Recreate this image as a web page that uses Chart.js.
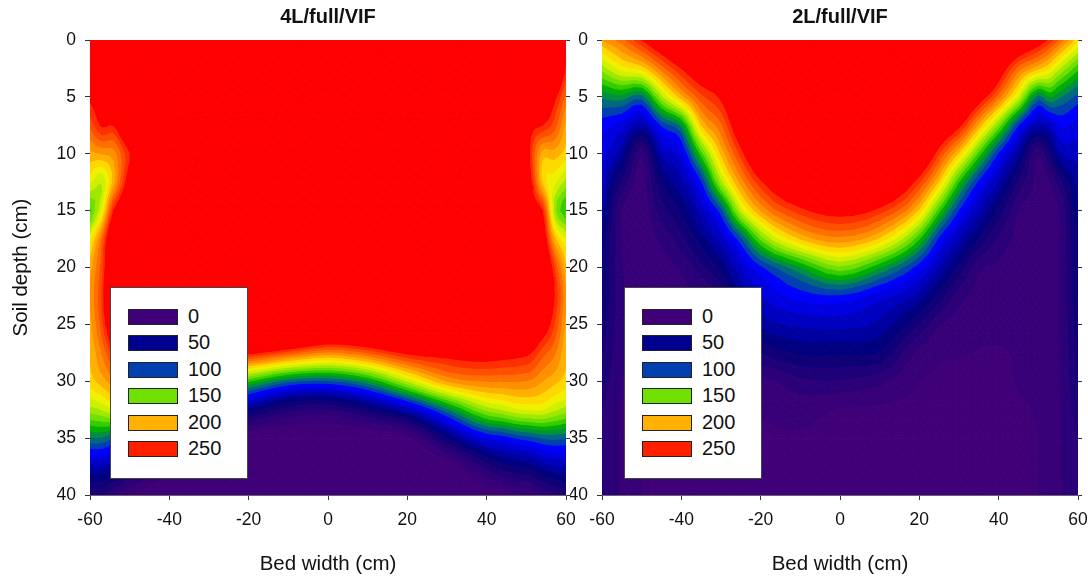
<!DOCTYPE html>
<html>
<head>
<meta charset="utf-8">
<title>Soil contour</title>
<script src="https://cdn.jsdelivr.net/npm/chart.js@4/dist/chart.umd.min.js"></script>
<style>
    body { margin: 0; background: #fff; font-family: "Liberation Sans", Arial, sans-serif; }
    #page { position: relative; width: 1088px; height: 576px; overflow: hidden; }
    canvas { position: absolute; top: 0; }
    #left-chart { left: 0; }
    #right-chart { left: 570px; }
    .legend { position: absolute; top: 287px; width: 136px; height: 190px; background: #fff; border: 1px solid #444; }
    .legend div { position: absolute; left: 17px; width: 48px; height: 14px; border: 1px solid #222; }
    .legend span { position: absolute; left: 77px; font-size: 20px; line-height: 20px; color: #111; }
</style>
</head>
<body>
<div id="page">
    <canvas id="left-chart" width="578" height="576"></canvas>
    <canvas id="right-chart" width="518" height="576"></canvas>
    <div class="legend" id="left-legend" style="left:110px"></div>
    <div class="legend" id="right-legend" style="left:624px"></div>
</div>
<script>
// Rows of every value column, soil depth in cm
const depths = [0, 2.5, 5, 7.5, 10, 12.5, 15, 17.5, 20, 22.5, 25, 27.5, 30, 32.5, 35, 37.5, 40];

// 4L/full/VIF, one column of values per bed width
const leftWidths = [-60, -57, -54, -51, -48, -44, -40, -30, -20, -10, 0, 10, 20, 30, 40, 44, 48, 51, 54, 57, 60];
const leftColumns = [
    [300, 280, 255, 232, 207, 182, 145, 183, 205, 210, 205, 200, 195, 165, 118, 70, 30],
    [300, 300, 265, 252, 210, 170, 180, 225, 235, 240, 235, 220, 205, 170, 118, 70, 30],
    [300, 300, 290, 250, 215, 205, 250, 285, 290, 300, 280, 245, 215, 180, 110, 60, 20],
    [300, 300, 300, 280, 240, 250, 280, 300, 300, 300, 300, 255, 220, 185, 110, 50, 10],
    [300, 300, 300, 300, 265, 290, 300, 300, 300, 300, 300, 260, 220, 170, 95, 40, 5],
    [300, 300, 300, 300, 300, 300, 300, 300, 300, 300, 310, 262, 205, 140, 75, 25, 0],
    [300, 300, 300, 300, 300, 300, 300, 300, 300, 300, 320, 260, 190, 120, 60, 18, 0],
    [300, 300, 300, 300, 300, 300, 300, 300, 300, 300, 340, 258, 165, 85, 25, 0, 0],
    [300, 300, 300, 300, 300, 300, 300, 300, 300, 300, 360, 254, 140, 56, 0, 0, 0],
    [300, 300, 300, 300, 300, 300, 300, 300, 300, 300, 340, 233, 112, 32, 0, 0, 0],
    [300, 300, 300, 300, 300, 300, 300, 300, 300, 300, 310, 216, 107, 27, 0, 0, 0],
    [300, 300, 300, 300, 300, 300, 300, 300, 300, 300, 312, 230, 126, 44, 0, 0, 0],
    [300, 300, 300, 300, 300, 300, 300, 300, 300, 300, 328, 253, 170, 70, 5, 0, 0],
    [300, 300, 300, 300, 300, 300, 300, 300, 300, 300, 310, 258, 210, 117, 48, 0, 0],
    [300, 300, 300, 300, 300, 300, 300, 300, 300, 300, 303, 262, 220, 163, 88, 33, 0],
    [300, 300, 300, 300, 300, 300, 300, 300, 300, 300, 299, 259, 220, 170, 93, 44, 0],
    [300, 300, 300, 300, 300, 300, 300, 300, 300, 300, 292, 256, 220, 178, 101, 50, 8],
    [300, 300, 300, 260, 245, 255, 270, 300, 300, 300, 285, 251, 218, 180, 105, 53, 10],
    [300, 300, 280, 250, 205, 198, 250, 270, 290, 280, 265, 234, 210, 180, 110, 62, 20],
    [300, 290, 255, 235, 205, 183, 165, 205, 240, 250, 240, 222, 203, 172, 112, 68, 25],
    [255, 245, 225, 205, 195, 165, 140, 180, 200, 210, 205, 200, 195, 165, 110, 70, 35]
];

// 2L/full/VIF
const rightWidths = [-60, -55, -50, -45, -40, -35, -30, -25, -20, -10, 0, 10, 20, 25, 30, 35, 40, 45, 50, 53, 55, 60];
const rightColumns = [
    [210, 164, 122, 94, 85, 75, 65, 55, 50, 50, 45, 40, 35, 30, 30, 30, 30],
    [225, 185, 125, 85, 63, 37, 18, 18, 20, 22, 22, 22, 20, 18, 18, 18, 18],
    [250, 194, 114, 67, 20, 15, 13, 13, 14, 15, 15, 15, 14, 12, 11, 10, 10],
    [275, 224, 166, 101, 71, 49, 35, 22, 17, 15, 14, 12, 11, 10, 9, 8, 7],
    [295, 250, 205, 122, 85, 68, 50, 36, 21, 18, 17, 14, 12, 10, 8, 7, 6],
    [300, 270, 236, 199, 144, 97, 74, 55, 36, 19, 17, 15, 13, 10, 8, 7, 6],
    [300, 275, 253, 227, 201, 165, 105, 75, 52, 30, 18, 15, 13, 10, 9, 8, 6],
    [320, 310, 290, 272, 243, 213, 172, 106, 78, 62, 44, 32, 20, 12, 9, 8, 6],
    [350, 350, 340, 320, 285, 247, 210, 152, 97, 79, 62, 40, 17, 11, 9, 8, 6],
    [350, 350, 350, 350, 320, 285, 245, 200, 128, 94, 72, 51, 27, 14, 9, 8, 7],
    [350, 350, 350, 350, 345, 300, 258, 216, 157, 98, 73, 51, 29, 9, 8, 7, 7],
    [350, 350, 350, 350, 330, 290, 245, 197, 130, 84, 67, 49, 22, 8, 7, 6, 6],
    [350, 350, 350, 330, 285, 241, 197, 140, 93, 66, 39, 16, 10, 8, 6, 5, 5],
    [350, 340, 310, 282, 240, 197, 143, 96, 70, 45, 20, 11, 9.5, 7, 6, 5, 5],
    [350, 320, 295, 255, 197, 139, 98, 71, 46, 24, 15, 10.5, 9, 7, 6, 5, 5],
    [340, 315, 264, 206, 145, 96, 71, 48, 22, 16, 13, 9.5, 8, 7, 6, 6, 6],
    [310, 268, 224, 156, 97, 69, 46, 27, 18, 15, 13, 9, 8, 7, 7, 7, 7],
    [285, 225, 175, 99, 63, 37, 19, 17, 16, 15, 13, 11, 10.5, 9, 8, 7, 7],
    [262, 202, 115, 69, 20, 17, 15, 15, 15, 15, 14, 13, 12, 11, 10, 10, 10],
    [245, 188, 130, 76, 42, 19, 17, 16, 16, 16, 15, 15, 15, 15, 15, 15, 15],
    [230, 173, 122, 89, 65, 32, 18, 18, 18, 18, 18, 18, 18, 18, 18, 18, 18],
    [192, 142, 106, 85, 75, 65, 58, 52, 50, 50, 45, 42, 40, 35, 30, 28, 25]
];

// Contour levels and the colour of the band that starts at each one
const levels = [0, 10, 20, 30, 40, 50, 60, 70, 80, 90, 100, 110, 120, 130, 140, 150, 160, 170, 180, 190, 200, 210, 220, 230, 240, 250];
const levelColors = ['#400078', '#380078', '#2c0078', '#1e0078', '#100078', '#000080', '#0000a0', '#0000c0', '#0000e0', '#0000ff',
    '#0040b0', '#006880', '#009040', '#00b000', '#38cc00', '#70e000', '#a0e800', '#d0f000', '#f0f000', '#ffd800',
    '#ffb000', '#ff9000', '#ff7000', '#ff5000', '#ff3000', '#ff0000'];

const legendLabels = ['0', '50', '100', '150', '200', '250'];
const legendColors = ['#400078', '#000090', '#0040b0', '#70e000', '#ffb000', '#ff2000'];

const xTicks = [-60, -40, -20, 0, 20, 40, 60];

// Contour mesh is 3 times finer than the table, so the band edges come out round
const meshSteps = 3;

// Smooth curve through one line of the table (hermite with finite difference slopes)
function refineLine(pos, vals) {
    const n = pos.length;
    const slope = i => {
        if (i === 0) return (vals[1] - vals[0]) / (pos[1] - pos[0]);
        if (i === n - 1) return (vals[n - 1] - vals[n - 2]) / (pos[n - 1] - pos[n - 2]);
        const h0 = pos[i] - pos[i - 1];
        const h1 = pos[i + 1] - pos[i];
        return ((vals[i] - vals[i - 1]) / h0 * h1 + (vals[i + 1] - vals[i]) / h1 * h0) / (h0 + h1);
    };
    const out = [];
    for (let i = 0; i < n - 1; i++) {
        const h = pos[i + 1] - pos[i];
        for (let s = 0; s < meshSteps; s++) {
            const t = s / meshSteps;
            const t2 = t * t;
            const t3 = t2 * t;
            out.push((2 * t3 - 3 * t2 + 1) * vals[i] + (t3 - 2 * t2 + t) * h * slope(i)
                + (-2 * t3 + 3 * t2) * vals[i + 1] + (t3 - t2) * h * slope(i + 1));
        }
    }
    out.push(vals[n - 1]);
    return out;
}

function refinePositions(pos) {
    const out = [];
    for (let i = 0; i < pos.length - 1; i++) {
        for (let s = 0; s < meshSteps; s++) out.push(pos[i] + (pos[i + 1] - pos[i]) * s / meshSteps);
    }
    out.push(pos[pos.length - 1]);
    return out;
}

// Keep the part of a triangle that lies at or above the level
function clipTriangle(tri, level) {
    const out = [];
    for (let i = 0; i < 3; i++) {
        const a = tri[i];
        const b = tri[(i + 1) % 3];
        if (a.v >= level) out.push(a);
        if ((a.v >= level) !== (b.v >= level)) {
            const t = (level - a.v) / (b.v - a.v);
            out.push({ x: a.x + t * (b.x - a.x), y: a.y + t * (b.y - a.y), v: level });
        }
    }
    return out;
}

// One filled line dataset per contour level, each holding small closed shapes split by gaps
function buildBands(widths, columns) {
    const fineDepths = refinePositions(depths);
    const fineWidths = refinePositions(widths);
    const byDepth = columns.map(col => refineLine(depths, col));
    const fine = fineDepths.map((d, r) => refineLine(widths, byDepth.map(col => col[r])));

    const triangles = [];
    for (let r = 0; r < fineDepths.length - 1; r++) {
        for (let c = 0; c < fineWidths.length - 1; c++) {
            const a = { x: fineWidths[c], y: fineDepths[r], v: fine[r][c] };
            const b = { x: fineWidths[c + 1], y: fineDepths[r], v: fine[r][c + 1] };
            const e = { x: fineWidths[c + 1], y: fineDepths[r + 1], v: fine[r + 1][c + 1] };
            const d = { x: fineWidths[c], y: fineDepths[r + 1], v: fine[r + 1][c] };
            triangles.push([a, b, e], [a, e, d]);
        }
    }

    const datasets = levels.map((level, i) => {
        const next = i < levels.length - 1 ? levels[i + 1] : Infinity;
        const floor = i === 0 ? -Infinity : level;
        const data = [];
        triangles.forEach(tri => {
            const low = Math.min(tri[0].v, tri[1].v, tri[2].v);
            // already covered by the next band up
            if (low >= next) return;
            const shape = clipTriangle(tri, floor);
            if (shape.length < 3) return;
            shape.forEach(pt => data.push({ x: pt.x, y: pt.y }));
            data.push({ x: shape[0].x, y: shape[0].y });
            data.push({ x: null, y: null });
        });
        return {
            data: data,
            showLine: true,
            fill: 'shape',
            backgroundColor: levelColors[i],
            borderColor: levelColors[i],
            borderWidth: 1,
            borderJoinStyle: 'round',
            pointRadius: 0,
            pointHoverRadius: 0
        };
    });
    // the first dataset is painted last, so the highest level goes first
    return datasets.reverse();
}

function makeChart(id, title, widths, columns, leftSize, rightSize, yTitle) {
    const family = '"Liberation Sans", Arial, sans-serif';
    const tickFont = { family: family, size: 17.5 };
    const titleFont = { family: family, size: 20.5 };
    const tickLine = { drawOnChartArea: false, tickLength: 5, tickColor: '#333' };
    return new Chart(document.getElementById(id), {
        type: 'scatter',
        data: { datasets: buildBands(widths, columns) },
        options: {
            responsive: false,
            animation: false,
            events: [],
            layout: { padding: 0 },
            plugins: {
                legend: { display: false },
                tooltip: { enabled: false },
                title: {
                    display: true,
                    text: title,
                    fullSize: false,
                    color: '#111',
                    font: { family: family, size: 20, weight: 'bold' },
                    padding: { top: 5, bottom: 11 }
                }
            },
            scales: {
                x: {
                    type: 'linear',
                    min: -60,
                    max: 60,
                    afterFit: s => { s.height = 81; s.paddingLeft = 0; s.paddingRight = 0; },
                    afterBuildTicks: s => { s.ticks = xTicks.map(v => ({ value: v })); },
                    border: { color: '#666' },
                    grid: tickLine,
                    ticks: { color: '#111', font: tickFont, maxRotation: 0, autoSkip: false, padding: 10 },
                    title: { display: true, text: 'Bed width (cm)', color: '#111', font: titleFont, padding: { bottom: -1 } }
                },
                xTop: {
                    type: 'linear',
                    position: 'top',
                    min: -60,
                    max: 60,
                    afterFit: s => { s.height = 0; s.paddingLeft = 0; s.paddingRight = 0; },
                    border: { color: '#666' },
                    grid: { display: false },
                    ticks: { display: false }
                },
                y: {
                    type: 'linear',
                    reverse: true,
                    min: 0,
                    max: 40,
                    afterFit: s => { s.width = leftSize; },
                    border: { display: false },
                    grid: tickLine,
                    ticks: { stepSize: 5, color: '#111', font: tickFont, padding: 9, autoSkip: false },
                    title: { display: yTitle !== '', text: yTitle, color: '#111', font: titleFont, padding: { top: 9, bottom: 0 } }
                },
                yRight: {
                    type: 'linear',
                    position: 'right',
                    reverse: true,
                    min: 0,
                    max: 40,
                    afterFit: s => { s.width = rightSize; },
                    border: { display: false },
                    grid: { drawOnChartArea: false, tickLength: 4, tickColor: '#333' },
                    ticks: { stepSize: 5, display: false }
                }
            }
        }
    });
}

function makeLegend(id) {
    const box = document.getElementById(id);
    legendLabels.forEach((label, i) => {
        const swatch = document.createElement('div');
        swatch.style.top = (21 + i * 26.4) + 'px';
        swatch.style.background = legendColors[i];
        box.appendChild(swatch);
        const text = document.createElement('span');
        text.style.top = (18 + i * 26.4) + 'px';
        text.textContent = label;
        box.appendChild(text);
    });
}

makeChart('left-chart', '4L/full/VIF', leftWidths, leftColumns, 90, 12, 'Soil depth (cm)');
makeChart('right-chart', '2L/full/VIF', rightWidths, rightColumns, 32, 10, '');
makeLegend('left-legend');
makeLegend('right-legend');
</script>
</body>
</html>
